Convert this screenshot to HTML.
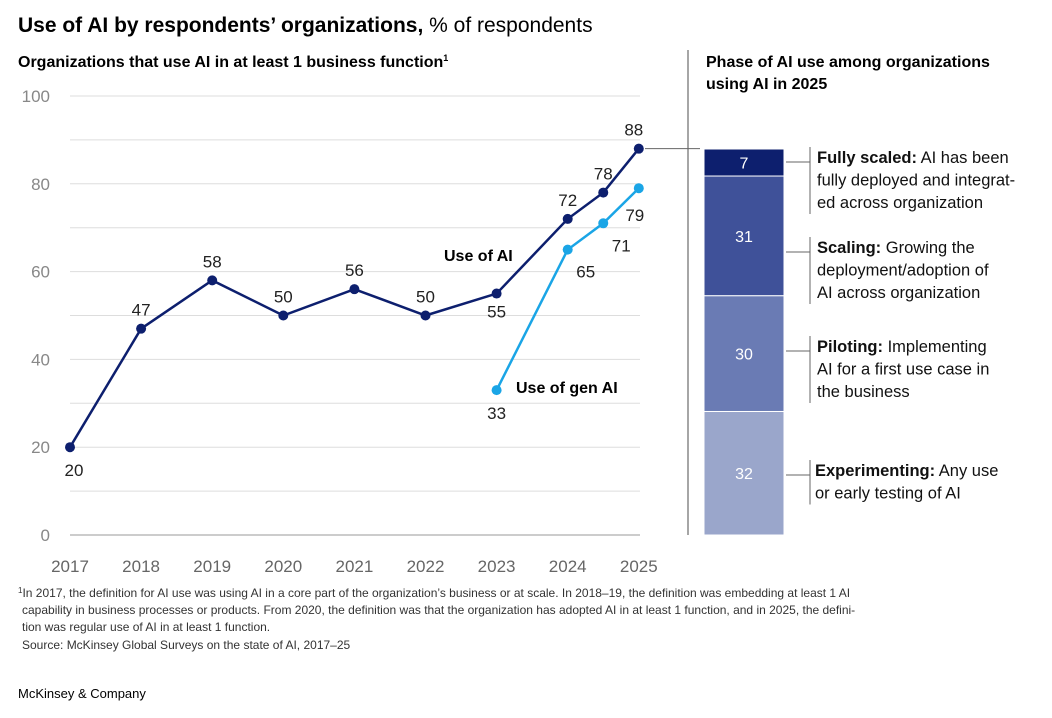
<!DOCTYPE html>
<html><head><meta charset="utf-8"><style>
body{margin:0;background:#fff;font-family:"Liberation Sans",sans-serif;}
svg text{font-family:"Liberation Sans",sans-serif;}
</style></head><body>
<svg id="c" width="1052" height="713" xmlns="http://www.w3.org/2000/svg">
<text x="18" y="32" font-size="21" fill="#000"><tspan font-weight="bold">Use of AI by respondents’ organizations,</tspan> % of respondents</text>
<text x="18" y="67" font-size="16" font-weight="bold" fill="#000">Organizations that use AI in at least 1 business function<tspan font-size="9" dy="-6">1</tspan></text>
<text x="706" y="67" font-size="16" font-weight="bold" fill="#000">Phase of AI use among organizations</text>
<text x="706" y="89" font-size="16" font-weight="bold" fill="#000">using AI in 2025</text>
<line x1="688" y1="50" x2="688" y2="535" stroke="#888" stroke-width="1.5"/>
<g id="grid"></g><g id="lines"></g><g id="bar"></g>
<g font-size="12" fill="#333">
<text x="18" y="597"><tspan font-size="8" dy="-4">1</tspan><tspan dy="4">In 2017, the definition for AI use was using AI in a core part of the organization’s business or at scale. In 2018–19, the definition was embedding at least 1 AI</tspan></text>
<text x="22" y="614">capability in business processes or products. From 2020, the definition was that the organization has adopted AI in at least 1 function, and in 2025, the defini-</text>
<text x="22" y="631">tion was regular use of AI in at least 1 function.</text>
<text x="22" y="649">Source: McKinsey Global Surveys on the state of AI, 2017–25</text>
</g>
<text x="18" y="698" font-size="13" fill="#000">McKinsey &amp; Company</text>
</svg>
<script>
const years=[2017,2018,2019,2020,2021,2022,2023,2024,2024.5,2025];
const aiValues=[20,47,58,50,56,50,55,72,78,88];
const genYears=[2023,2024,2024.5,2025];
const genValues=[33,65,71,79];
const xTickLabels=["2017","2018","2019","2020","2021","2022","2023","2024","2025"];
const yTickLabels=["0","20","40","60","80","100"];
const phaseValues=[32,30,31,7];
const phaseLabels=["32","30","31","7"];
const NS="http://www.w3.org/2000/svg";
const x=v=>70+(v-2017)*71.1;
const y=v=>535-v*4.39;
function mk(t,a,p,txt){const e=document.createElementNS(NS,t);for(const k in a)e.setAttribute(k,a[k]);if(txt!=null)e.textContent=txt;p.appendChild(e);return e;}
const g=document.getElementById('grid');
for(let v=0;v<=100;v+=10){const l=mk('line',{x1:70,x2:640,y1:y(v),y2:y(v),stroke:v==0?'#999':'#ddd','stroke-width':1},g);

}
yTickLabels.forEach(s=>{const t=mk('text',{x:50,y:y(+s)+6,'font-size':17,fill:'#888','text-anchor':'end'},g,s);

});
xTickLabels.forEach(s=>{const t=mk('text',{x:x(+s),y:572,'font-size':17,fill:'#666','text-anchor':'middle'},g,s);

});
const L=document.getElementById('lines');
function series(xs,vs,col,name,below){
 const p=mk('polyline',{points:xs.map((d,i)=>x(d)+','+y(vs[i])).join(' '),fill:'none',stroke:col,'stroke-width':2.5},L);
 
 
 xs.forEach((d,i)=>{const c=mk('circle',{cx:x(d),cy:y(vs[i]),r:5,fill:col},L);
 
 
 const b=below(i);const dx=b[0];const dy=b[1];
 const t=mk('text',{x:x(d)+dx,y:y(vs[i])+dy,'font-size':17,fill:'#222','text-anchor':'middle'},L,vs[i]);
 
 });
}
series(years,aiValues,'#0d1f6e','use-of-ai',i=>[[4,29],[0,-13],[0,-13],[0,-13],[0,-13],[0,-13],[0,24],[0,-13],[0,-13],[-5,-13]][i]);
series(genYears,genValues,'#1aa5e6','use-of-gen-ai',i=>[[0,29],[18,28],[18,28],[-4,33]][i]);
let t=mk('text',{x:444,y:261,'font-size':16,'font-weight':'bold',fill:'#000'},L,'Use of AI');

t=mk('text',{x:516,y:393,'font-size':16,'font-weight':'bold',fill:'#000'},L,'Use of gen AI');

const B=document.getElementById('bar');
const cols=['#9aa6cb','#6a7bb4','#3f5199','#0d1f6e'];
const descTop=[470,346,247,157];
const descs=[[["Experimenting:"," Any use"],["","or early testing of AI"]],
[["Piloting:"," Implementing"],["","AI for a first use case in"],["","the business"]],
[["Scaling:"," Growing the"],["","deployment/adoption of"],["","AI across organization"]],
[["Fully scaled:"," AI has been"],["","fully deployed and integrat-"],["","ed across organization"]]];
const total=phaseValues.reduce((a,b)=>a+b,0);const H=386;let cum=0;
phaseValues.forEach((v,i)=>{
 const y1=535-cum/total*H;const h=v/total*H;cum+=v;const y0=y1-h;
 const r=mk('rect',{x:704,y:y0,width:80,height:h,fill:cols[i],stroke:'#fff','stroke-width':1},B);
 
 
 const tt=mk('text',{x:744,y:y0+h/2+6,'font-size':16,fill:'#fff','text-anchor':'middle'},B,phaseLabels[i]);
 
 
 const n=descs[i].length;const top=descTop[i];const cy=top+5;
 const k=mk('path',{d:`M786,${cy}H810M810,${top-10}V${top+(n-1)*22.5+12}`,stroke:'#666',fill:'none','stroke-width':1},B);
 
 
 descs[i].forEach((ln,j)=>{const te=mk('text',{x:i==0?815:817,y:top+j*22.5+6,'font-size':16.5,fill:'#111'},B);
 
 
 if(ln[0])mk('tspan',{'font-weight':'bold'},te,ln[0]);mk('tspan',{},te,ln[1]);});
});
const cl=mk('line',{x1:645,y1:y(88),x2:700,y2:y(88),stroke:'#666','stroke-width':1},B);


</script>
</body></html>
